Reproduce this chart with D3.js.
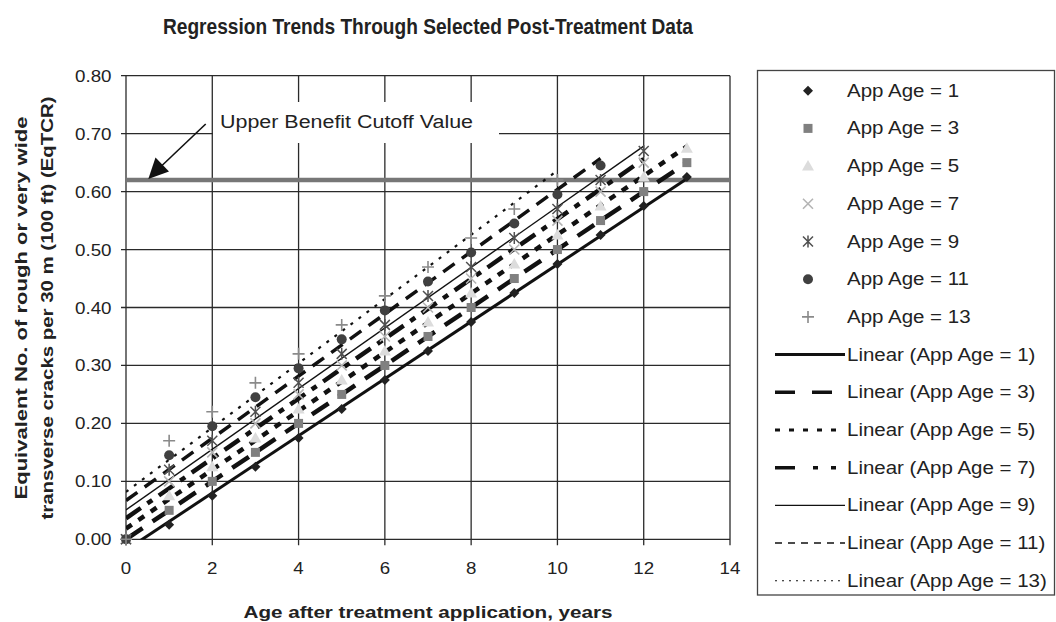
<!DOCTYPE html>
<html>
<head>
<meta charset="utf-8">
<script src="https://cdn.jsdelivr.net/npm/d3@7"></script>
<style>
  body { margin: 0; background: #fff; }
  svg { display: block; font-family: "Liberation Sans", Arial, Helvetica, sans-serif; }
</style>
</head>
<body>
<script>
// values (y at year 0, 1, 2, ...)
var appAge1 = [0, 0.025, 0.075, 0.125, 0.175, 0.225, 0.275, 0.325, 0.375, 0.425, 0.475, 0.525, 0.575, 0.625];
var appAge3 = [0, 0.05, 0.10, 0.15, 0.20, 0.25, 0.30, 0.35, 0.40, 0.45, 0.50, 0.55, 0.60, 0.65];
var appAge5 = [0, 0.075, 0.125, 0.175, 0.225, 0.275, 0.325, 0.375, 0.425, 0.475, 0.525, 0.575, 0.625, 0.675];
var appAge7 = [0, 0.10, 0.15, 0.20, 0.25, 0.30, 0.35, 0.40, 0.45, 0.50, 0.55, 0.60, 0.65];
var appAge9 = [0, 0.12, 0.17, 0.22, 0.27, 0.32, 0.37, 0.42, 0.47, 0.52, 0.57, 0.62, 0.67];
var appAge11 = [0, 0.145, 0.195, 0.245, 0.295, 0.345, 0.395, 0.445, 0.495, 0.545, 0.595, 0.645];
var appAge13 = [0, 0.17, 0.22, 0.27, 0.32, 0.37, 0.42, 0.47, 0.52, 0.57, 0.62];

var seriesNames = ["App Age = 1", "App Age = 3", "App Age = 5", "App Age = 7", "App Age = 9", "App Age = 11", "App Age = 13"];
var cutoffValue = 0.62;
var xTicks = [0, 2, 4, 6, 8, 10, 12, 14];
var yTicks = [0, 0.1, 0.2, 0.3, 0.4, 0.5, 0.6, 0.7, 0.8];

var width = 1056, height = 622;
var pLeft = 126, pRight = 730, pTop = 75.7, pBottom = 539.3;

var svg = d3.select("body").append("svg")
    .attr("width", width)
    .attr("height", height);

var x = d3.scaleLinear().domain([0, 14]).range([pLeft, pRight]);
var y = d3.scaleLinear().domain([0, 0.8]).range([pBottom, pTop]);

// stretch text horizontally to a target width
function fit(sel, w) {
    sel.attr("textLength", w).attr("lengthAdjust", "spacingAndGlyphs");
}
function widen(sel, k) {
    sel.each(function() {
        var w = this.getComputedTextLength();
        d3.select(this).attr("textLength", w * k).attr("lengthAdjust", "spacingAndGlyphs");
    });
}

// marker shapes
function marker(g, type, cx, cy) {
    if (type == 0) {
        g.append("path").attr("d", "M" + cx + "," + (cy - 5) + "l5,5l-5,5l-5,-5z").attr("fill", "#222");
    } else if (type == 1) {
        g.append("rect").attr("x", cx - 4.5).attr("y", cy - 4.5).attr("width", 9).attr("height", 9).attr("fill", "#808080");
    } else if (type == 2) {
        g.append("path").attr("d", "M" + cx + "," + (cy - 6) + "l6,10.5h-12z").attr("fill", "#dcdcdc");
    } else if (type == 3) {
        g.append("path").attr("d", "M" + (cx - 5) + "," + (cy - 5) + "l10,10M" + (cx + 5) + "," + (cy - 5) + "l-10,10")
            .attr("stroke", "#b5b5b5").attr("stroke-width", 1.6).attr("fill", "none");
    } else if (type == 4) {
        g.append("path").attr("d", "M" + (cx - 5) + "," + (cy - 5) + "l10,10M" + (cx + 5) + "," + (cy - 5) + "l-10,10M" + cx + "," + (cy - 6) + "v12")
            .attr("stroke", "#505050").attr("stroke-width", 1.5).attr("fill", "none");
    } else if (type == 5) {
        g.append("circle").attr("cx", cx).attr("cy", cy).attr("r", 5).attr("fill", "#404040");
    } else {
        g.append("path").attr("d", "M" + (cx - 6) + "," + cy + "h12M" + cx + "," + (cy - 6) + "v12")
            .attr("stroke", "#8a8a8a").attr("stroke-width", 1.6).attr("fill", "none");
    }
}

var allSeries = [appAge1, appAge3, appAge5, appAge7, appAge9, appAge11, appAge13];

// trendline styles in plot and in legend
var lineStyles = [
    { w: 3, dash: null, lw: 3, ldash: null },
    { w: 4.5, dash: "20,12", lw: 3.5, ldash: "20,17" },
    { w: 4.5, dash: "7,8", lw: 3, ldash: "5,9" },
    { w: 4.5, dash: "18,8,6,8", lw: 3.5, ldash: "20,18,5,13,5,13" },
    { w: 1.4, dash: null, lw: 1.4, ldash: null },
    { w: 3.5, dash: "14,9", lw: 1.5, ldash: "7,6" },
    { w: 2.2, dash: "3,7", lw: 1.1, ldash: "2,5" }
];

// title
svg.append("text")
    .attr("x", 428).attr("y", 34)
    .attr("text-anchor", "middle")
    .style("font-size", "22.5px").style("font-weight", "bold").style("fill", "#222")
    .text("Regression Trends Through Selected Post-Treatment Data")
    .call(fit, 530);

// grid
var grid = svg.append("g").attr("stroke", "#2a2a2a").attr("stroke-width", 1.3);
yTicks.forEach(function(t) {
    grid.append("line").attr("x1", pLeft - 5).attr("x2", pRight).attr("y1", y(t)).attr("y2", y(t));
});
xTicks.forEach(function(t) {
    grid.append("line").attr("x1", x(t)).attr("x2", x(t)).attr("y1", pTop).attr("y2", pBottom + 6);
});

// tick labels
svg.append("g").selectAll("text").data(yTicks).enter().append("text")
    .attr("x", 111.5).attr("y", function(d) { return y(d) + 6; })
    .attr("text-anchor", "end")
    .style("font-size", "17px").style("fill", "#222")
    .text(function(d) { return d.toFixed(2); })
    .call(fit, 36.5);
svg.append("g").selectAll("text").data(xTicks).enter().append("text")
    .attr("x", function(d) { return x(d); }).attr("y", 574)
    .attr("text-anchor", "middle")
    .style("font-size", "17px").style("fill", "#222")
    .text(function(d) { return d; })
    .call(widen, 1.1);

// axis titles
svg.append("text")
    .attr("x", 428).attr("y", 618)
    .attr("text-anchor", "middle")
    .style("font-size", "16px").style("font-weight", "bold").style("fill", "#222")
    .text("Age after treatment application, years")
    .call(fit, 369);
svg.append("text")
    .attr("transform", "translate(27,308) rotate(-90)")
    .attr("text-anchor", "middle")
    .style("font-size", "17px").style("font-weight", "bold").style("fill", "#222")
    .text("Equivalent No. of rough or very wide")
    .call(fit, 383);
svg.append("text")
    .attr("transform", "translate(53,308) rotate(-90)")
    .attr("text-anchor", "middle")
    .style("font-size", "17px").style("font-weight", "bold").style("fill", "#222")
    .text("transverse cracks per 30 m (100 ft) (EqTCR)")
    .call(fit, 423);

// cutoff line
svg.append("line")
    .attr("x1", x(0)).attr("x2", x(14))
    .attr("y1", y(cutoffValue)).attr("y2", y(cutoffValue))
    .attr("stroke", "#777").attr("stroke-width", 4.5);

// annotation
svg.append("rect").attr("x", 213).attr("y", 102).attr("width", 286).attr("height", 41).attr("fill", "#fff");
svg.append("text")
    .attr("x", 220).attr("y", 128)
    .style("font-size", "18px").style("fill", "#222")
    .text("Upper Benefit Cutoff Value")
    .call(fit, 253);
svg.append("line")
    .attr("x1", 205.7).attr("y1", 124).attr("x2", 162).attr("y2", 165.5)
    .attr("stroke", "#111").attr("stroke-width", 1.6);
svg.append("path")
    .attr("d", "M148.3,179L155.5,157.5L169,171.5Z")
    .attr("fill", "#111");

// regression lines
function linReg(vals) {
    var n = vals.length;
    var mx = d3.mean(vals, function(v, i) { return i; });
    var my = d3.mean(vals);
    var sxy = 0, sxx = 0;
    vals.forEach(function(v, i) {
        sxy += (i - mx) * (v - my);
        sxx += (i - mx) * (i - mx);
    });
    var b = sxy / sxx;
    return { a: my - b * mx, b: b, x0: 0, x1: n - 1 };
}

var plot = svg.append("g");
plot.append("clipPath").attr("id", "clip").append("rect")
    .attr("x", pLeft).attr("y", pTop).attr("width", pRight - pLeft).attr("height", pBottom - pTop);

allSeries.forEach(function(vals, k) {
    var r = linReg(vals);
    var st = lineStyles[k];
    plot.append("line")
        .attr("clip-path", "url(#clip)")
        .attr("x1", x(r.x0)).attr("y1", y(r.a + r.b * r.x0))
        .attr("x2", x(r.x1)).attr("y2", y(r.a + r.b * r.x1))
        .attr("stroke", "#111").attr("stroke-width", st.w)
        .attr("stroke-dasharray", st.dash);
});

allSeries.forEach(function(vals, k) {
    var g = plot.append("g");
    vals.forEach(function(v, i) {
        marker(g, k, x(i), y(v));
    });
});

// legend
var legend = svg.append("g");
legend.append("rect")
    .attr("x", 757.5).attr("y", 70.5).attr("width", 297).attr("height", 524.5)
    .attr("fill", "#fff").attr("stroke", "#444").attr("stroke-width", 1.3);

var rowY = function(i) { return 90.7 + i * 37.7; };
seriesNames.forEach(function(name, k) {
    marker(legend, k, 808, rowY(k));
    legend.append("text")
        .attr("x", 847).attr("y", rowY(k) + 6)
        .style("font-size", "17.5px").style("fill", "#222")
        .text(name)
        .call(widen, 1.17);
});
seriesNames.forEach(function(name, k) {
    var st = lineStyles[k];
    var yy = rowY(k + 7);
    legend.append("line")
        .attr("x1", 775).attr("x2", 845).attr("y1", yy).attr("y2", yy)
        .attr("stroke", "#111").attr("stroke-width", st.lw)
        .attr("stroke-dasharray", st.ldash);
    legend.append("text")
        .attr("x", 847).attr("y", yy + 6)
        .style("font-size", "17.5px").style("fill", "#222")
        .text("Linear (" + name + ")")
        .call(widen, 1.17);
});
</script>
</body>
</html>
